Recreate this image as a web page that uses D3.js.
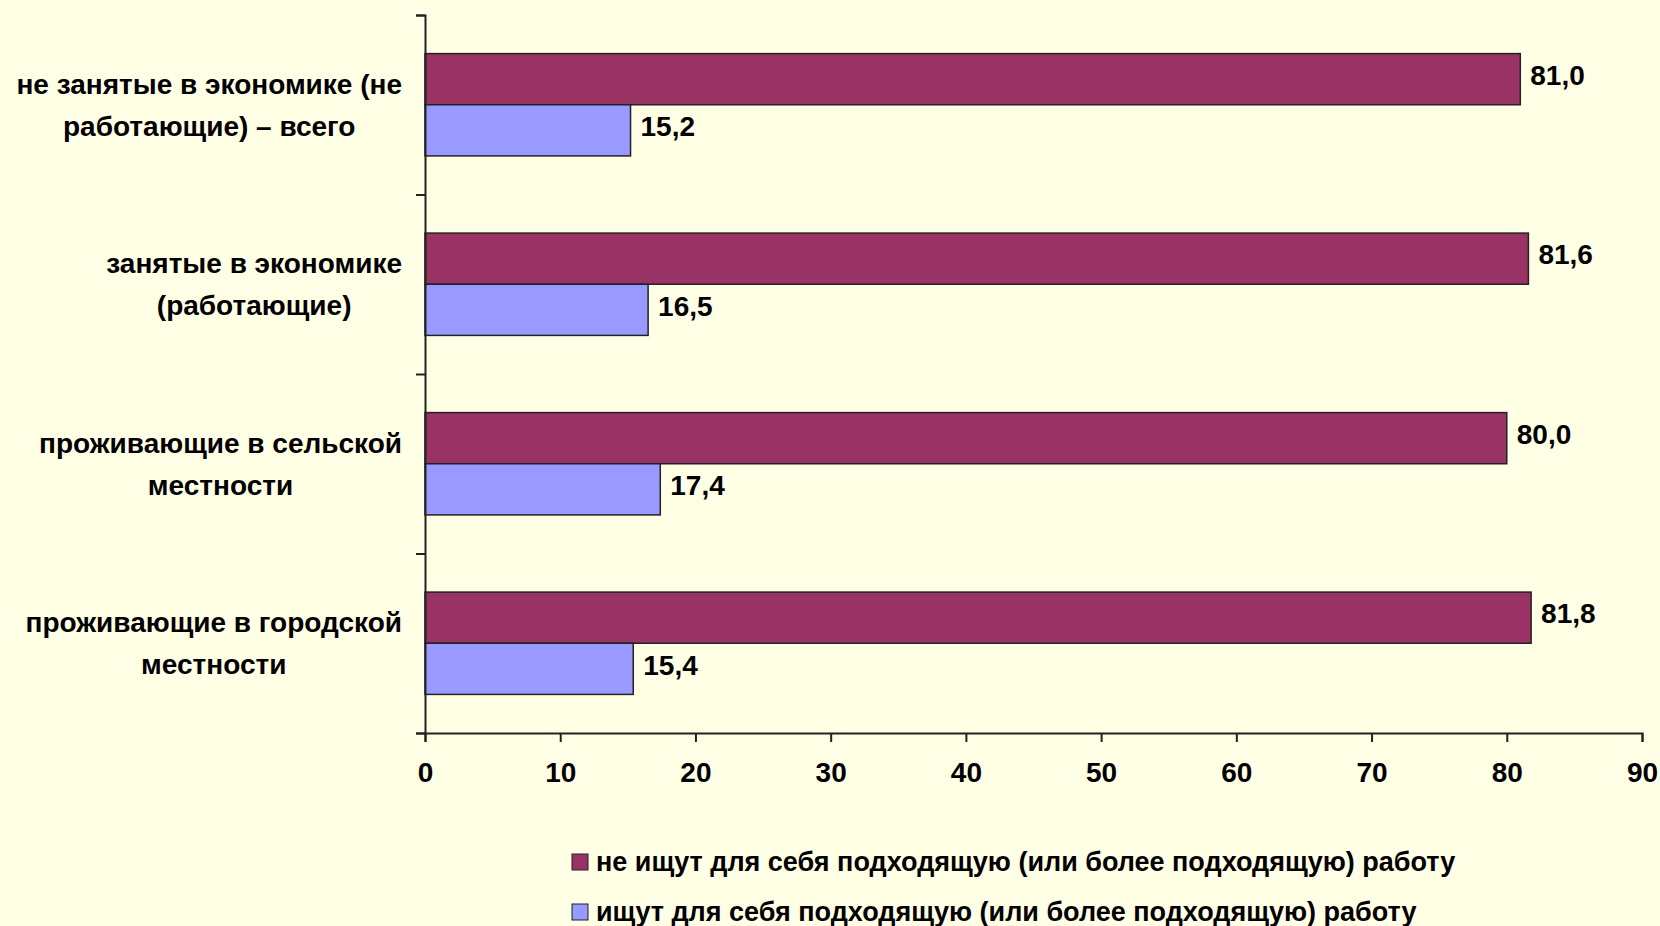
<!DOCTYPE html>
<html>
<head>
<meta charset="utf-8">
<script src="https://cdn.jsdelivr.net/npm/d3@7"></script>
<style>
  html, body { margin: 0; padding: 0; background: #ffffe6; }
  svg { display: block; }
  text { font-family: "Liberation Sans", Arial, sans-serif; font-weight: bold; fill: #000; }
</style>
</head>
<body>
<div id="chart"></div>
<script>
// categories, each split into the lines as wrapped in the original
const categories = [
  ['не занятые в экономике (не', 'работающие)  – всего'],
  ['занятые в экономике', '(работающие)'],
  ['проживающие в сельской', 'местности'],
  ['проживающие в городской', 'местности']
];
const notSeeking = [81.0, 81.6, 80.0, 81.8];
const seeking = [15.2, 16.5, 17.4, 15.4];
const xTicks = [0, 10, 20, 30, 40, 50, 60, 70, 80, 90];
const seriesNames = [
  'не ищут для себя подходящую (или более подходящую) работу',
  'ищут для себя подходящую (или более подходящую) работу'
];
const seriesColors = ['#993366', '#9999ff'];

const W = 1660, H = 926;
const margin = { top: 15, right: 18, bottom: 193, left: 425 };
const width = W - margin.left - margin.right;
const height = H - margin.top - margin.bottom;

const svg = d3.select('#chart').append('svg')
  .attr('width', W)
  .attr('height', H);

const g = svg.append('g')
  .attr('transform', `translate(${margin.left},${margin.top})`);

const x = d3.scaleLinear().domain([0, 90]).range([0, width]);
const y = d3.scaleBand()
  .domain(d3.range(categories.length))
  .range([0, height])
  .paddingInner(0.43)
  .paddingOuter(0.215);
const sub = d3.scaleBand().domain([0, 1]).range([0, y.bandwidth()]);

const fmt = v => v.toFixed(1).replace('.', ',');

// bars
const series = [notSeeking, seeking];
series.forEach((vals, s) => {
  g.selectAll('.bar' + s)
    .data(vals)
    .enter()
    .append('rect')
    .attr('class', 'bar' + s)
    .attr('x', x(0))
    .attr('y', (d, i) => y(i) + sub(s))
    .attr('width', d => x(d) - x(0))
    .attr('height', sub.bandwidth())
    .attr('fill', seriesColors[s])
    .attr('stroke', '#222')
    .attr('stroke-width', 1.5);

  g.selectAll('.lbl' + s)
    .data(vals)
    .enter()
    .append('text')
    .attr('class', 'lbl' + s)
    .attr('x', d => x(d) + 10)
    .attr('y', (d, i) => y(i) + sub(s) + sub.bandwidth() / 2 - 4)
    .attr('dy', '0.35em')
    .style('font-size', '28px')
    .text(d => fmt(d));
});

// y axis with ticks at category boundaries
const yEdge = d3.scaleLinear().domain([0, categories.length]).range([0, height]);
const yAxis = g.append('g')
  .call(d3.axisLeft(yEdge).tickValues(d3.range(categories.length + 1)).tickSize(9).tickFormat(''));
yAxis.select('.domain').attr('stroke', '#222').attr('stroke-width', 2);
yAxis.selectAll('.tick line').attr('stroke', '#222').attr('stroke-width', 2);

// x axis
const xAxis = g.append('g')
  .attr('transform', `translate(0,${height})`)
  .call(d3.axisBottom(x).tickValues(xTicks).tickSize(9).tickPadding(20));
xAxis.select('.domain').attr('stroke', '#222').attr('stroke-width', 2);
xAxis.selectAll('.tick line').attr('stroke', '#222').attr('stroke-width', 2);
xAxis.selectAll('.tick text')
  .style('font-size', '28px')
  .style('font-family', '"Liberation Sans", Arial, sans-serif')
  .style('font-weight', 'bold')
  .attr('fill', '#000');

// category labels: block right-aligned to axis, lines centered in block
const labelRight = -23;
categories.forEach((lines, i) => {
  const t = g.append('text')
    .style('font-size', '28px');
  const cy = y(i) + y.bandwidth() / 2;
  const spans = lines.map((ln, k) => t.append('tspan')
    .attr('y', cy + (k - (lines.length - 1) / 2) * 42)
    .attr('dy', '0.35em')
    .attr('text-anchor', 'middle')
    .text(ln));
  const maxW = d3.max(spans, s => s.node().getComputedTextLength());
  spans.forEach(s => s.attr('x', labelRight - maxW / 2));
});

// legend
const legend = svg.append('g')
  .attr('transform', 'translate(572,862)');
seriesNames.forEach((name, s) => {
  const row = legend.append('g').attr('transform', `translate(0,${s * 50})`);
  row.append('rect')
    .attr('x', 0).attr('y', -8)
    .attr('width', 16).attr('height', 16)
    .attr('fill', seriesColors[s])
    .attr('stroke', '#222')
    .attr('stroke-width', 1);
  row.append('text')
    .attr('x', 24)
    .attr('dy', '0.35em')
    .style('font-size', '27px')
    .text(name);
});
</script>
</body>
</html>
